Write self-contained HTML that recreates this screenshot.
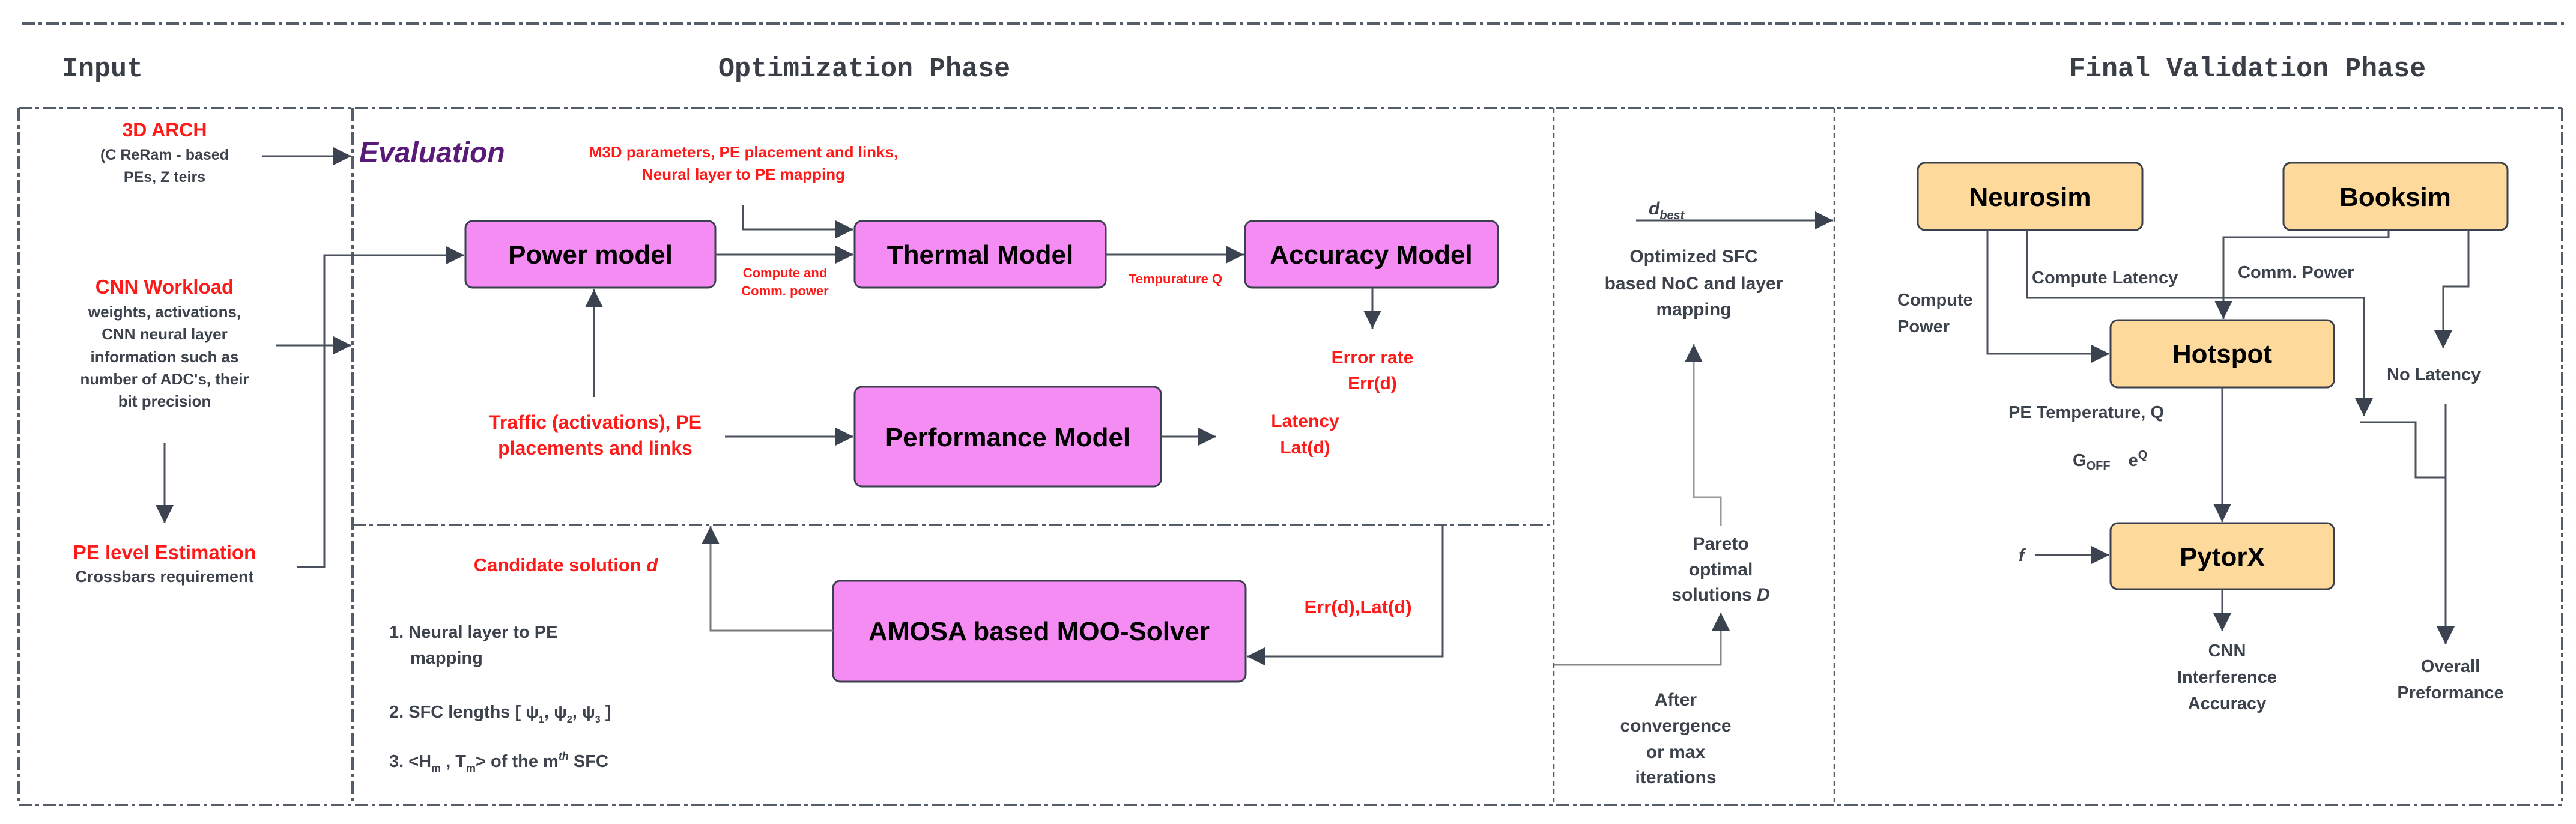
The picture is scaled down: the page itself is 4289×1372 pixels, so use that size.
<!DOCTYPE html>
<html><head><meta charset="utf-8"><style>
html,body{margin:0;padding:0;background:#fff;}
svg{display:block;}
text{font-family:"Liberation Sans",Arial,sans-serif;}
.mono{font-family:"Liberation Mono",monospace;font-weight:bold;fill:#3a3f47;font-size:45px;}
.red{fill:#ff1a1a;font-weight:bold;}
.gr{fill:#3d434c;font-weight:bold;}
.bx{font-weight:bold;fill:#000;font-size:44px;}
</style></head><body>
<svg width="4289" height="1372" viewBox="0 0 4289 1372" xmlns="http://www.w3.org/2000/svg">
<defs>
<marker id="a" viewBox="0 0 10 10" refX="9" refY="5" markerWidth="7" markerHeight="7" markerUnits="userSpaceOnUse" orient="auto">
</marker>
<marker id="ar" viewBox="0 0 10 10" refX="10" refY="5" markerWidth="10" markerHeight="10" orient="auto" markerUnits="strokeWidth">
<path d="M0,0 L10,5 L0,10 z" fill="#3b4350"/></marker>
</defs>
<!-- frame lines -->
<g stroke="#555d68" stroke-width="4" fill="none" stroke-dasharray="22,6,6,6">
<line x1="36" y1="39" x2="4269" y2="39"/>
<line x1="31" y1="180" x2="4266" y2="180"/>
<line x1="31" y1="1340" x2="4266" y2="1340"/>
<line x1="31" y1="180" x2="31" y2="1340"/>
<line x1="4266" y1="180" x2="4266" y2="1340"/>
<line x1="587" y1="180" x2="587" y2="1340"/>
<line x1="587" y1="874" x2="2587" y2="874"/>
</g>
<g stroke="#555d68" stroke-width="2.5" fill="none" stroke-dasharray="8,6">
<line x1="2587" y1="180" x2="2587" y2="1340"/>
<line x1="3054" y1="180" x2="3054" y2="1340"/>
</g>
<!-- titles -->
<text class="mono" x="103" y="127">Input</text>
<text class="mono" x="1196" y="127">Optimization Phase</text>
<text class="mono" x="3445" y="127">Final Validation Phase</text>

<!-- input column -->
<text class="red" x="274" y="227" font-size="32" text-anchor="middle">3D ARCH</text>
<text class="gr" x="274" y="266" font-size="25" text-anchor="middle">(C ReRam - based</text>
<text class="gr" x="274" y="303" font-size="25" text-anchor="middle">PEs, Z teirs</text>
<text class="red" x="274" y="489" font-size="33" text-anchor="middle">CNN Workload</text>
<g class="gr" font-size="26" text-anchor="middle">
<text x="274" y="528">weights, activations,</text>
<text x="274" y="565">CNN neural layer</text>
<text x="274" y="603">information such as</text>
<text x="274" y="640">number of ADC's,  their</text>
<text x="274" y="677">bit precision</text>
</g>
<text class="red" x="274" y="931" font-size="33" text-anchor="middle">PE level Estimation</text>
<text class="gr" x="274" y="969" font-size="27" text-anchor="middle">Crossbars requirement</text>

<!-- evaluation -->
<text x="598" y="270" font-size="48" font-style="italic" font-weight="bold" fill="#5a1a78">Evaluation</text>
<text class="red" x="1238" y="262" font-size="26" text-anchor="middle">M3D parameters, PE placement and links,</text>
<text class="red" x="1238" y="299" font-size="26" text-anchor="middle">Neural layer to PE mapping</text>

<g stroke="#3a414c" stroke-width="3">
<rect x="775" y="368" width="416" height="111" rx="12" fill="#f48cf4"/>
<rect x="1423" y="368" width="418" height="111" rx="12" fill="#f48cf4"/>
<rect x="2073" y="368" width="421" height="111" rx="12" fill="#f48cf4"/>
<rect x="1423" y="644" width="510" height="166" rx="12" fill="#f48cf4"/>
<rect x="1387" y="967" width="687" height="168" rx="12" fill="#f48cf4"/>
<rect x="3193" y="271" width="374" height="112" rx="12" fill="#fdd99b"/>
<rect x="3802" y="271" width="373" height="112" rx="12" fill="#fdd99b"/>
<rect x="3514" y="533" width="372" height="112" rx="12" fill="#fdd99b"/>
<rect x="3514" y="871" width="372" height="110" rx="12" fill="#fdd99b"/>
</g>
<g class="bx" text-anchor="middle">
<text x="983" y="439">Power model</text>
<text x="1632" y="439">Thermal Model</text>
<text x="2283" y="439">Accuracy Model</text>
<text x="1678" y="743">Performance Model</text>
<text x="1730" y="1066">AMOSA based MOO-Solver</text>
<text x="3380" y="343">Neurosim</text>
<text x="3988" y="343">Booksim</text>
<text x="3700" y="604">Hotspot</text>
<text x="3700" y="942">PytorX</text>
</g>

<text class="red" x="1307" y="462" font-size="22" text-anchor="middle">Compute and</text>
<text class="red" x="1307" y="492" font-size="22" text-anchor="middle">Comm. power</text>
<text class="red" x="1957" y="472" font-size="22" text-anchor="middle">Tempurature Q</text>
<text class="red" x="2285" y="605" font-size="30" text-anchor="middle">Error rate</text>
<text class="red" x="2285" y="648" font-size="30" text-anchor="middle">Err(d)</text>
<text class="red" x="2173" y="711" font-size="30" text-anchor="middle">Latency</text>
<text class="red" x="2173" y="755" font-size="30" text-anchor="middle">Lat(d)</text>
<text class="red" x="991" y="714" font-size="32" text-anchor="middle">Traffic (activations), PE</text>
<text class="red" x="991" y="757" font-size="32" text-anchor="middle">placements and links</text>
<text class="red" x="942" y="951" font-size="31" text-anchor="middle">Candidate solution <tspan font-style="italic">d</tspan></text>
<text class="red" x="2261" y="1021" font-size="31" text-anchor="middle">Err(d),Lat(d)</text>

<g class="gr" font-size="29">
<text x="648" y="1062">1.  Neural layer to PE</text>
<text x="683" y="1105">mapping</text>
<text x="648" y="1195">2.  SFC lengths [  ψ<tspan font-size="16" dy="8">1</tspan><tspan dy="-8">, ψ</tspan><tspan font-size="16" dy="8">2</tspan><tspan dy="-8">, ψ</tspan><tspan font-size="16" dy="8">3</tspan><tspan dy="-8">  ]</tspan></text>
<text x="648" y="1277">3.  &lt;H<tspan font-size="18" dy="8">m</tspan><tspan dy="-8"> , T</tspan><tspan font-size="18" dy="8">m</tspan><tspan dy="-8">&gt;  of the m</tspan><tspan font-size="18" dy="-12" font-style="italic">th</tspan><tspan dy="12"> SFC</tspan></text>
</g>

<text x="2745" y="357" font-size="30" font-style="italic" font-weight="bold" fill="#3d434c">d<tspan font-size="20" dy="8">best</tspan></text>
<g class="gr" font-size="30" text-anchor="middle">
<text x="2820" y="437">Optimized SFC</text>
<text x="2820" y="482">based NoC and layer</text>
<text x="2820" y="525">mapping</text>
<text x="2865" y="915">Pareto</text>
<text x="2865" y="958">optimal</text>
<text x="2865" y="1000">solutions <tspan font-style="italic">D</tspan></text>
<text x="2790" y="1175">After</text>
<text x="2790" y="1218">convergence</text>
<text x="2790" y="1262">or max</text>
<text x="2790" y="1304">iterations</text>
</g>

<!-- validation labels -->
<g class="gr" font-size="29">
<text x="3159" y="509">Compute</text>
<text x="3159" y="553">Power</text>
<text x="3383" y="472">Compute Latency</text>
<text x="3726" y="463">Comm. Power</text>
<text x="3974" y="633">No Latency</text>
<text x="3344" y="696">PE Temperature, Q</text>
<text x="3451" y="776">G<tspan font-size="20" dy="6">OFF</tspan><tspan dx="30" dy="-6">e</tspan><tspan font-size="20" dy="-12">Q</tspan></text>
<text x="3361" y="934" font-style="italic">f</text>
</g>
<g class="gr" font-size="29" text-anchor="middle">
<text x="3708" y="1093">CNN</text>
<text x="3708" y="1137">Interference</text>
<text x="3708" y="1181">Accuracy</text>
<text x="4080" y="1119">Overall</text>
<text x="4080" y="1163">Preformance</text>
</g>

<!-- connectors -->
<g fill="none" stroke="#4a515c" stroke-width="3" marker-end="url(#ar)">
<path d="M437,260 H585"/>
<path d="M460,575 H585"/>
<path d="M274,738 V871"/>
<path d="M494,944 H540 V425 H773"/>
<path d="M1237,341 V382 H1421"/>
<path d="M1191,424 H1421"/>
<path d="M989,661 V482"/>
<path d="M1841,424 H2071"/>
<path d="M2285,480 V547"/>
<path d="M1207,727 H1421"/>
<path d="M1933,727 H2025"/>
<path d="M2402,874 V1093 H2076"/>
<path d="M1387,1050 H1183 V876" stroke="#777"/>
<path d="M2587,1107 H2865 V1020" stroke="#888"/>
<path d="M2865,876 V828 H2820 V573" stroke="#999"/>
<path d="M2724,367 H3052"/>
<path d="M3309,383 V589 H3512"/>
<path d="M3375,383 V496 H3936 V693"/>
<path d="M3977,383 V395 H3702 V531"/>
<path d="M4110,383 V477 H4068 V580"/>
<path d="M3700,645 V869"/>
<path d="M3389,924 H3512"/>
<path d="M3700,981 V1051"/>
<path d="M4072,673 V1073"/>
</g>
<path d="M3930,703 H4022 V795 H4072" fill="none" stroke="#4a515c" stroke-width="3"/>
</svg>
</body></html>
